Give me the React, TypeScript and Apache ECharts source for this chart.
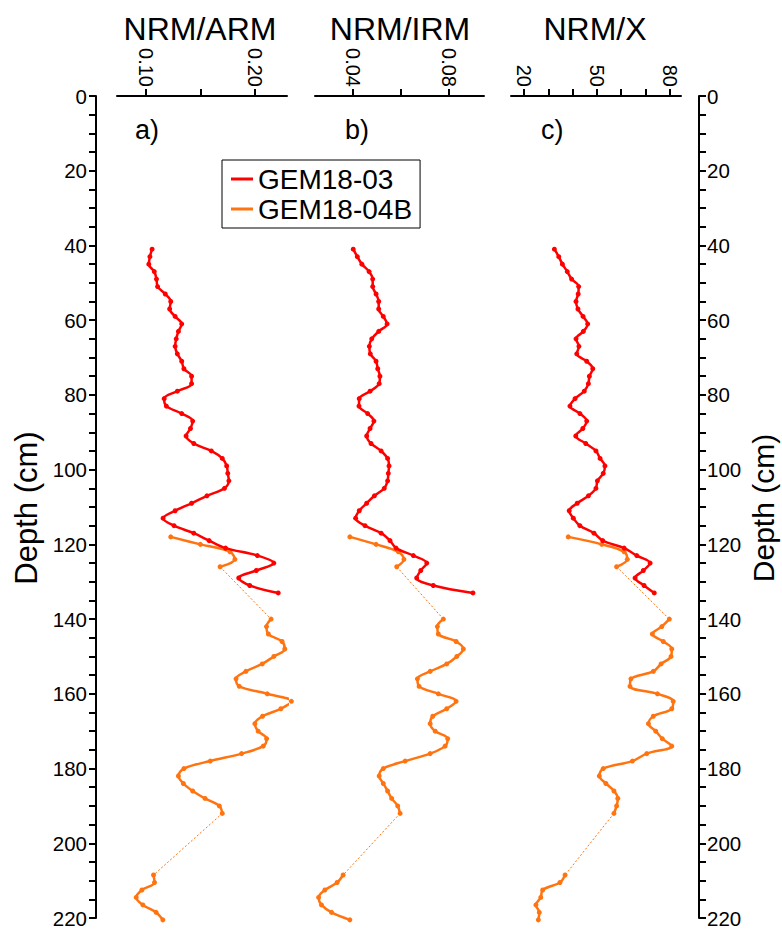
import React, { useEffect, useRef } from "react";
import * as echarts from "echarts";

// ---------- data ----------
const depthRed = [41, 43, 45, 47, 49, 51, 53, 55, 57, 59, 61, 63, 65, 67, 69, 71, 73, 75, 77, 79, 81, 83, 85, 87, 89, 91, 93, 95, 97, 99, 101, 103, 105, 107, 109, 111, 113, 115, 117, 119, 121, 123, 125, 127, 129, 131, 133];
const armRed = [0.106, 0.104, 0.103, 0.108, 0.110, 0.111, 0.118, 0.123, 0.122, 0.127, 0.133, 0.130, 0.128, 0.127, 0.129, 0.133, 0.135, 0.142, 0.142, 0.129, 0.117, 0.119, 0.133, 0.143, 0.141, 0.137, 0.144, 0.160, 0.170, 0.174, 0.175, 0.176, 0.172, 0.156, 0.142, 0.127, 0.116, 0.126, 0.144, 0.158, 0.173, 0.202, 0.217, 0.201, 0.185, 0.195, 0.221];
const irmRed = [0.0402, 0.0419, 0.0438, 0.0468, 0.0483, 0.0483, 0.0497, 0.0508, 0.0508, 0.0527, 0.0543, 0.0508, 0.0479, 0.0469, 0.0473, 0.0497, 0.0504, 0.0513, 0.0510, 0.0472, 0.0427, 0.0426, 0.0462, 0.0488, 0.0472, 0.0458, 0.0476, 0.0518, 0.0545, 0.0551, 0.0548, 0.0545, 0.0531, 0.0490, 0.0458, 0.0427, 0.0412, 0.0451, 0.0518, 0.0555, 0.0580, 0.0652, 0.0708, 0.0683, 0.0666, 0.0735, 0.0900];
const xRed = [32.5, 34.3, 35.8, 37.8, 39.6, 42.5, 42.3, 41.4, 42.2, 44.3, 46.2, 44.4, 41.4, 42.6, 41.7, 45.8, 48.3, 46.9, 46.5, 44.8, 41.0, 38.9, 43.0, 45.8, 44.2, 41.3, 45.4, 49.6, 51.3, 53.3, 52.6, 50.2, 49.6, 46.5, 41.9, 38.6, 40.3, 43.0, 48.8, 52.4, 61.2, 66.4, 71.9, 69.1, 65.7, 69.4, 73.6];

const depthOrange1 = [118, 120, 122, 124, 126];
const armOrange1 = [0.123, 0.150, 0.177, 0.1815, 0.168];
const irmOrange1 = [0.0388, 0.0497, 0.059, 0.0613, 0.0583];
const xOrange1 = [38.2, 52.0, 61.2, 62.5, 58.1];

const depthOrange2 = [140, 142, 144, 146, 148, 150, 152, 154, 156, 158, 160, 162, 164, 166, 168, 170, 172, 174, 176, 178, 180, 182, 184, 186, 188, 190, 192];
const armOrange2 = [0.2145, 0.2103, 0.212, 0.2245, 0.227, 0.217, 0.2064, 0.1915, 0.1825, 0.1855, 0.211, 0.233, 0.2234, 0.2067, 0.1997, 0.2027, 0.2104, 0.2073, 0.1876, 0.159, 0.135, 0.130, 0.1345, 0.143, 0.1543, 0.1673, 0.170];
const irmOrange2 = [0.0777, 0.0752, 0.0756, 0.083, 0.086, 0.0833, 0.0791, 0.0722, 0.0669, 0.0676, 0.0756, 0.083, 0.0791, 0.0733, 0.0722, 0.0743, 0.0795, 0.0784, 0.0722, 0.0618, 0.0527, 0.051, 0.0527, 0.0545, 0.0562, 0.0587, 0.0597];
const xOrange2 = [79.8, 76.7, 72.8, 77.3, 80.8, 80.5, 76.4, 73.2, 64.0, 63.6, 74.9, 81.4, 80.8, 73.2, 71.2, 74.2, 76.9, 80.8, 70.5, 64.6, 52.6, 51.0, 53.7, 57.0, 58.6, 58.1, 57.0];

const depthOrange3 = [208.5, 210.5, 212.5, 214.5, 216.5, 218.5, 220.5];
const armOrange3 = [0.1073, 0.1082, 0.0967, 0.0915, 0.0976, 0.1097, 0.1158];
const irmOrange3 = [0.036, 0.0335, 0.0284, 0.0258, 0.027, 0.0312, 0.0388];
const xOrange3 = [36.9, 34.8, 27.7, 26.9, 24.9, 26.3, 25.9];

const panelTitles = ["NRM/ARM", "NRM/IRM", "NRM/X"];
const panelLetters = ["a)", "b)", "c)"];
const armTicks = [0.10, 0.15, 0.20];
const armLabels = [0.10, 0.20];
const irmTicks = [0.04, 0.06, 0.08];
const irmLabels = [0.04, 0.08];
const xTicks = [20, 30, 40, 50, 60, 70, 80];
const xLabels = [20, 50, 80];
const seriesNames = ["GEM18-03", "GEM18-04B"];

const RED = "#ff0000";
const ORANGE = "#ff7410";
const FONT = "'Liberation Sans', Arial, Helvetica, sans-serif";

const zip = (vals: number[], deps: number[]) => deps.map((d, i) => [vals[i], d]);

export default function App() {
  const ref = useRef<HTMLDivElement>(null);

  useEffect(() => {
    if (!ref.current) return;
    const chart = echarts.init(ref.current, undefined, { renderer: "svg" });

    const top = 96;
    const height = 822;
    const panels = [
      { left: 117, right: 287, min: 0.074, max: 0.229, ticks: armTicks, labels: armLabels, fmt: (v: number) => v.toFixed(2), red: armRed, o: [armOrange1, armOrange2, armOrange3] },
      { left: 315, right: 484, min: 0.0243, max: 0.0946, ticks: irmTicks, labels: irmLabels, fmt: (v: number) => v.toFixed(2), red: irmRed, o: [irmOrange1, irmOrange2, irmOrange3] },
      { left: 511, right: 681, min: 14.65, max: 84.6, ticks: xTicks, labels: xLabels, fmt: (v: number) => String(Math.round(v)), red: xRed, o: [xOrange1, xOrange2, xOrange3] },
    ];

    const grids: any[] = panels.map((p) => ({ left: p.left, width: p.right - p.left, top, height, containLabel: false }));
    grids.push({ left: 96, width: 699 - 96, top, height });

    const xAxes: any[] = panels.map((p, i) => ({
      type: "value",
      gridIndex: i,
      position: "top",
      min: p.min,
      max: p.max,
      axisLine: { show: true, onZero: false, lineStyle: { color: "#000", width: 2 } },
      axisTick: { show: true, customValues: p.ticks, length: 7, lineStyle: { color: "#000", width: 2 } },
      axisLabel: { show: true, customValues: p.labels, rotate: 90, margin: 9, fontSize: 20, color: "#000", fontFamily: FONT, formatter: p.fmt },
      splitLine: { show: false },
    }));
    xAxes.push({ type: "value", gridIndex: 3, min: 0, max: 1, show: false });

    const yBase = {
      type: "value",
      min: 0,
      max: 220,
      interval: 20,
      inverse: true,
    };
    const yAxes: any[] = panels.map((_, i) => ({ ...yBase, gridIndex: i, show: false }));
    const yVis = {
      ...yBase,
      gridIndex: 3,
      axisLine: { show: true, onZero: false, lineStyle: { color: "#000", width: 2 } },
      axisTick: { show: true, length: 7, lineStyle: { color: "#000", width: 2 } },
      minorTick: { show: true, splitNumber: 4, length: 7, lineStyle: { color: "#000", width: 2 } },
      axisLabel: { fontSize: 20.5, color: "#000", fontFamily: FONT, margin: 9 },
      splitLine: { show: false },
      minorSplitLine: { show: false },
    };
    yAxes.push({ ...yVis, position: "left" });
    yAxes.push({ ...yVis, position: "right", axisLabel: { ...yVis.axisLabel, margin: 8 } });

    const series: any[] = [];
    const deps = [depthOrange1, depthOrange2, depthOrange3];
    panels.forEach((p, i) => {
      const common = {
        type: "line",
        xAxisIndex: i,
        yAxisIndex: i,
        clip: false,
        smooth: 0.35,
        symbol: "circle",
        symbolSize: 5,
        z: 3,
      };
      // dotted gap connectors between core sections
      for (let g = 0; g < 2; g++) {
        const a = p.o[g];
        const b = p.o[g + 1];
        const da = deps[g];
        const db = deps[g + 1];
        series.push({
          type: "line",
          name: "gap",
          xAxisIndex: i,
          yAxisIndex: i,
          clip: false,
          symbol: "none",
          data: [[a[a.length - 1], da[da.length - 1]], [b[0], db[0]]],
          lineStyle: { color: ORANGE, width: 1, type: [2, 2] },
          z: 2,
        });
      }
      p.o.forEach((vals, k) => {
        series.push({
          ...common,
          name: seriesNames[1],
          data: zip(vals, deps[k]),
          itemStyle: { color: ORANGE },
          lineStyle: { color: ORANGE, width: 2.5 },
        });
      });
      series.push({
        ...common,
        name: seriesNames[0],
        data: zip(p.red, depthRed),
        itemStyle: { color: RED },
        lineStyle: { color: RED, width: 2.5 },
        z: 4,
      });
    });

    const titleX = [200, 400, 595];
    const letterX = [135, 345, 541];
    const graphic: any[] = [];
    panelTitles.forEach((t, i) => {
      graphic.push({
        type: "text",
        x: titleX[i],
        y: 29,
        style: { text: t, fontSize: 32, fontFamily: FONT, fill: "#000", textAlign: "center", textVerticalAlign: "middle" },
      });
      graphic.push({
        type: "text",
        x: letterX[i],
        y: 130,
        style: { text: panelLetters[i], fontSize: 27, fontFamily: FONT, fill: "#000", textAlign: "left", textVerticalAlign: "middle" },
      });
    });
    graphic.push({
      type: "text",
      x: 26,
      y: 508,
      rotation: Math.PI / 2,
      style: { text: "Depth (cm)", fontSize: 31, fontFamily: FONT, fill: "#000", textAlign: "center", textVerticalAlign: "middle" },
    });
    graphic.push({
      type: "text",
      x: 763,
      y: 508,
      rotation: Math.PI / 2,
      style: { text: "Depth (cm)", fontSize: 30, fontFamily: FONT, fill: "#000", textAlign: "center", textVerticalAlign: "middle" },
    });

    chart.setOption({
      animation: false,
      textStyle: { fontFamily: FONT },
      grid: grids,
      xAxis: xAxes,
      yAxis: yAxes,
      legend: {
        data: seriesNames,
        orient: "vertical",
        left: 222,
        top: 160,
        icon: "rect",
        itemWidth: 22,
        itemHeight: 3,
        itemGap: 2,
        padding: [5, 8, 5, 9],
        borderColor: "#000",
        borderWidth: 1,
        textStyle: { fontSize: 28, color: "#000", fontFamily: FONT },
      },
      graphic,
      series,
    });

    return () => chart.dispose();
  }, []);

  return <div ref={ref} style={{ position: "fixed", left: 0, top: 0, width: 782, height: 933, background: "#fff" }} />;
}
